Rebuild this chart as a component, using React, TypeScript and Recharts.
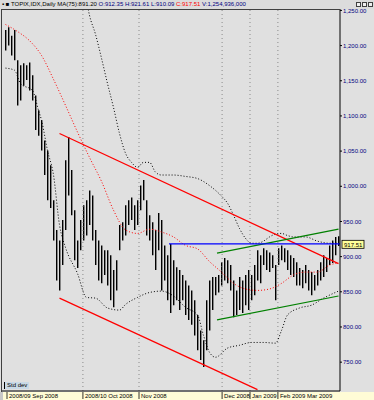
import React from 'react'
import { ComposedChart, Bar, Line, XAxis, YAxis, ReferenceLine, CartesianGrid } from 'recharts'

// daily bars, index points (one entry per session)
const highs = [
  1222, 1226, 1214, 1222, 1179, 1172, 1175, 1172, 1176, 1158,
  1129, 1108, 1094, 1065, 1051, 1030, 980, 938, 923, 952,
  1037, 1070, 1023, 966, 923, 952, 973, 980, 994, 987,
  938, 923, 916, 909, 909, 902, 881, 895, 945, 949,
  973, 980, 984, 973, 980, 1001, 1009, 980, 959, 949,
  938, 962, 952, 916, 902, 918, 895, 885, 881, 874,
  866, 859, 852, 838, 817, 795, 781, 838, 866, 871,
  871, 874, 892, 898, 895, 888, 866, 852, 871, 866,
  874, 881, 874, 888, 909, 902, 912, 909, 906, 902,
  888, 912, 916, 912, 909, 902, 898, 892, 884, 881,
  888, 881, 878, 874, 881, 892, 902, 898, 916, 923,
  928, 929,
]
const lows = [
  1193, 1200, 1186, 1179, 1115, 1122, 1143, 1151, 1136, 1122,
  1080, 1072, 1051, 1016, 980, 969, 923, 866, 852, 888,
  938, 987, 959, 895, 884, 909, 923, 930, 945, 923,
  888, 866, 862, 874, 859, 838, 828, 852, 909, 923,
  930, 945, 952, 938, 945, 966, 980, 930, 923, 902,
  881, 909, 852, 866, 838, 820, 831, 838, 824, 838,
  817, 810, 803, 788, 767, 753, 743, 767, 795, 824,
  845, 849, 859, 866, 862, 852, 814, 817, 824, 820,
  831, 824, 838, 845, 866, 862, 888, 881, 878, 884,
  838, 888, 895, 892, 881, 874, 871, 859, 859, 855,
  862, 852, 845, 852, 859, 866, 871, 878, 888, 891,
  902, 915,
]

// moving average (red dots)
const maIdx = [0, 4, 8, 12, 16, 20, 24, 28, 32, 36, 40, 44, 48, 52, 56, 60, 64, 68, 72, 76, 80, 84, 88, 92, 96, 100, 104, 108, 111]
const maVals = [1230, 1220, 1207, 1186, 1152, 1115, 1077, 1041, 1007, 966, 938, 933, 939, 935, 928, 916, 911, 893, 878, 862, 854, 852, 854, 862, 874, 878, 878, 888, 891]

// std dev bands (black dots)
const bandTopIdx = [27, 28, 30, 32, 34, 36, 38, 40, 42, 44, 46, 48, 50, 52, 56, 60, 64, 68, 72, 74, 76, 78, 80, 82, 84, 86, 88, 90, 92, 94, 96, 100, 104, 108, 111]
const bandTopVals = [1264, 1243, 1216, 1182, 1146, 1112, 1075, 1047, 1034, 1027, 1034, 1034, 1020, 1016, 1016, 1014, 1011, 1001, 986, 976, 959, 940, 926, 919, 919, 922, 928, 932, 933, 930, 928, 928, 922, 919, 919]
const bandLowIdx = [0, 3, 5, 9, 11, 12, 14, 16, 18, 20, 24, 27, 30, 34, 38, 40, 44, 48, 52, 56, 60, 64, 66, 68, 70, 74, 78, 82, 86, 90, 92, 94, 98, 102, 106, 111]
const bandLowVals = [1168, 1165, 1146, 1136, 1108, 1094, 1051, 1016, 945, 913, 876, 842, 841, 827, 824, 832, 842, 849, 851, 844, 828, 817, 788, 764, 757, 770, 774, 778, 778, 777, 795, 817, 827, 831, 841, 851]

// hand drawn trend lines: [start idx, end idx] / [start value, end value]
const redTopIdx = [18, 111]
const redTopVals = [1075, 890]
const redLowIdx = [18, 84]
const redLowVals = [841, 711]
const greenTopIdx = [70.5, 111]
const greenTopVals = [905, 939]
const greenLowIdx = [70.5, 111]
const greenLowVals = [810, 844]
const resistIdx = [54.5, 111.5]
const resistLevel = 918
const lastClose = 917.51

const yTicks = [750, 800, 850, 900, 950, 1000, 1050, 1100, 1150, 1200, 1250]
const gridIdx = [25.8, 44.5, 72.2, 81.5, 90.8]
const xTickIdx = [0.5, 25.8, 44.5, 72.2, 81.5, 90.8]
const xTickLabels = ['2008/09  Sep 2008', '2008/10  Oct 2008', 'Nov 2008', 'Dec 2008', 'Jan 2009', 'Feb 2009  Mar 2009']

const bars = highs.map((h, i) => ({ i, range: [lows[i], h] }))
const toPts = (idx: number[], vals: number[]) => idx.map((i, k) => ({ i, v: vals[k] }))
const seg = (idx: number[], vals: number[]) => [
  { x: idx[0], y: vals[0] },
  { x: idx[1], y: vals[1] },
]

const fmt = (v: number) => v.toLocaleString('en-US', { minimumFractionDigits: 2, maximumFractionDigits: 2 })

function DateTick(props: any) {
  const { x, y, payload } = props
  const k = xTickIdx.indexOf(payload.value)
  return (
    <g>
      <line x1={x} x2={x} y1={y + 1} y2={y + 8} stroke="#000" strokeWidth={0.8} />
      <text x={x + 2} y={y + 7} fontSize={6} fill="#000" textAnchor="start">
        {xTickLabels[k]}
      </text>
    </g>
  )
}

function PriceTag(props: any) {
  const { viewBox } = props
  if (!viewBox) return null
  const x = viewBox.x + viewBox.width + 2
  const y = viewBox.y
  return (
    <g>
      <rect x={x} y={y - 4} width={22} height={8} fill="#ffff99" stroke="#000" strokeWidth={0.8} />
      <text x={x + 2} y={y + 2.5} fontSize={6} fill="#000">{lastClose.toFixed(2)}</text>
    </g>
  )
}

export default function App() {
  return (
    <div
      style={{
        position: 'absolute',
        left: 0,
        top: 0,
        width: 374,
        height: 400,
        background: '#e0e0e0',
        overflow: 'hidden',
        fontFamily: '"Liberation Sans", Arial, sans-serif',
      }}
    >
      <div style={{ position: 'absolute', left: 0, top: 392, width: 374, height: 8, background: '#fffcd6' }} />
      <div style={{ position: 'absolute', left: 0, top: 392, width: 3, height: 8, background: '#c8c8c8' }} />

      <div style={{ position: 'absolute', left: 0, top: 0 }}>
        <ComposedChart width={374} height={400} data={bars} margin={{ top: 9, right: 0, bottom: 0, left: 2 }}>
          <CartesianGrid fill="#e0e0e0" horizontal={false} vertical={false} />
          <XAxis
            dataKey="i"
            type="number"
            domain={[-1.17, 111.5]}
            ticks={xTickIdx}
            interval={0}
            tick={<DateTick />}
            height={9}
            tickSize={0}
            tickMargin={0}
            tickLine={false}
            axisLine={{ stroke: '#000' }}
            allowDataOverflow
          />
          <YAxis
            orientation="right"
            width={34}
            domain={[709, 1252]}
            ticks={yTicks}
            interval={0}
            tickFormatter={fmt}
            tick={{ fontSize: 6, fill: '#000080' }}
            tickSize={2}
            tickMargin={1}
            tickLine={{ stroke: '#000' }}
            axisLine={{ stroke: '#000' }}
            allowDataOverflow
          />
          {gridIdx.map((g) => (
            <ReferenceLine key={g} x={g} stroke="#8a8a8a" strokeDasharray="1 3" />
          ))}
          <Bar dataKey="range" fill="#000" barSize={1.4} isAnimationActive={false} />
          <Line data={toPts(bandTopIdx, bandTopVals)} dataKey="v" type="monotone" stroke="#000" strokeDasharray="1 2" dot={false} isAnimationActive={false} />
          <Line data={toPts(bandLowIdx, bandLowVals)} dataKey="v" type="monotone" stroke="#000" strokeDasharray="1 2" dot={false} isAnimationActive={false} />
          <Line data={toPts(maIdx, maVals)} dataKey="v" type="monotone" stroke="#ff0000" strokeDasharray="1 2" dot={false} isAnimationActive={false} />
          <ReferenceLine segment={seg(redTopIdx, redTopVals)} stroke="#ff0000" strokeWidth={1.2} ifOverflow="hidden" />
          <ReferenceLine segment={seg(redLowIdx, redLowVals)} stroke="#ff0000" strokeWidth={1.2} ifOverflow="hidden" />
          <ReferenceLine segment={seg(greenTopIdx, greenTopVals)} stroke="#008000" strokeWidth={1.2} />
          <ReferenceLine segment={seg(greenLowIdx, greenLowVals)} stroke="#008000" strokeWidth={1.2} />
          <ReferenceLine segment={[{ x: resistIdx[0], y: resistLevel }, { x: resistIdx[1], y: resistLevel }]} stroke="#0000ff" strokeWidth={1.2} />
          <ReferenceLine y={lastClose} stroke="none" label={<PriceTag />} ifOverflow="visible" />
        </ComposedChart>
      </div>

      {/* frame on the left and top */}
      <div style={{ position: 'absolute', left: 1, top: 9, width: 1, height: 383, background: '#404040' }} />
      <div style={{ position: 'absolute', left: 1, top: 9, width: 339, height: 1, background: '#404040' }} />

      {/* title strip */}
      <div
        style={{
          position: 'absolute',
          left: 0,
          top: 0,
          width: 374,
          height: 9,
          background: '#dcdcdc',
          fontSize: 6,
          lineHeight: '9px',
          whiteSpace: 'nowrap',
          overflow: 'hidden',
        }}
      >
        <span style={{ color: '#000', marginLeft: 2 }}>▪ ■ TOPIX,IDX,Daily  MA(75):891.20  </span>
        <span style={{ color: '#000080' }}>O:912.35  H:921.61  </span>
        <span style={{ color: '#000080' }}>L:910.09  </span>
        <span style={{ color: '#ff0000' }}>C:917.51  </span>
        <span style={{ color: '#000080' }}>V:1,254,936,000</span>
      </div>
      {[356, 362, 368].map((x) => (
        <div
          key={x}
          style={{ position: 'absolute', left: x, top: 2, width: 5, height: 5, background: '#f0f0f0', border: '0.5px solid #404040', boxSizing: 'border-box' }}
        />
      ))}

      <div
        style={{
          position: 'absolute',
          left: 4,
          top: 382,
          fontSize: 6,
          lineHeight: '7px',
          padding: '0 2px',
          background: '#c9d9e6',
          borderLeft: '1px solid #000',
          color: '#000',
        }}
      >
        Std dev
      </div>
    </div>
  )
}
